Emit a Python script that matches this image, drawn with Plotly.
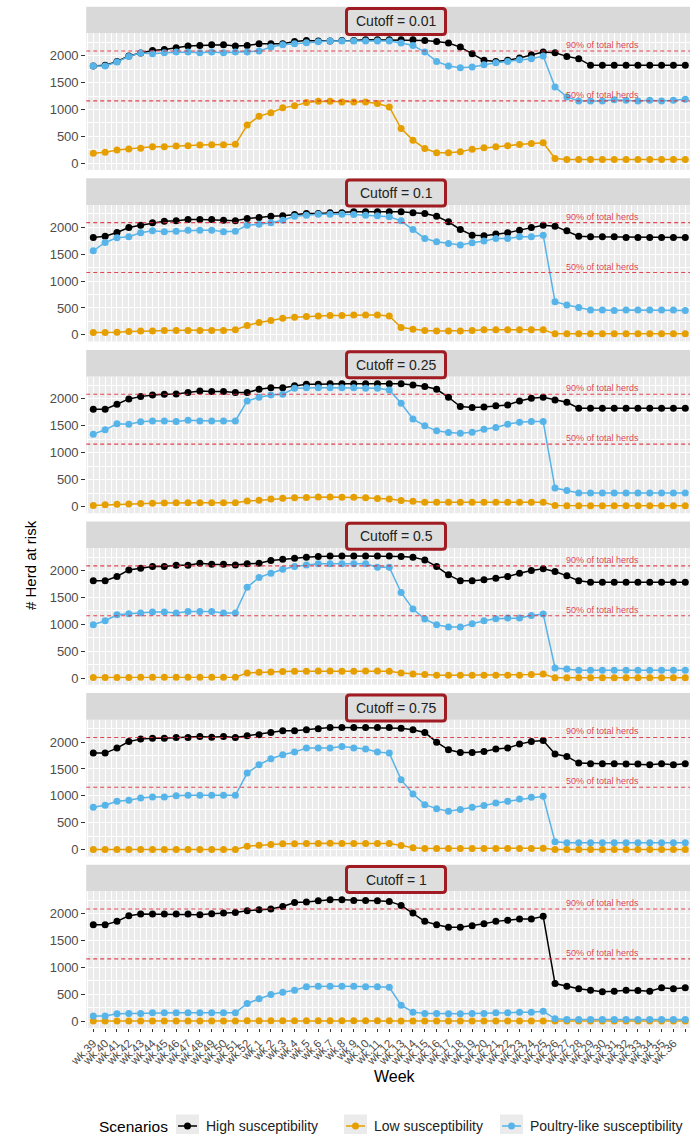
import plotly.graph_objects as go

# ---------------------------------------------------------------- data
weeks = ["wk.39", "wk.40", "wk.41", "wk.42", "wk.43", "wk.44", "wk.45", "wk.46",
         "wk.47", "wk.48", "wk.49", "wk.50", "wk.51", "wk.52", "wk.1", "wk.2",
         "wk.3", "wk.4", "wk.5", "wk.6", "wk.7", "wk.8", "wk.9", "wk.10", "wk.11",
         "wk.12", "wk.13", "wk.14", "wk.15", "wk.16", "wk.17", "wk.18", "wk.19",
         "wk.20", "wk.21", "wk.22", "wk.23", "wk.24", "wk.25", "wk.26", "wk.27",
         "wk.28", "wk.29", "wk.30", "wk.31", "wk.32", "wk.33", "wk.34", "wk.35",
         "wk.36", "wk.37"]

cutoffs = ["0.01", "0.1", "0.25", "0.5", "0.75", "1"]
scenarios = ["High susceptibility", "Low susceptibility", "Poultry-like susceptibility"]

total_herds = 2318

# Cutoff = 0.01
high_c001 = [1808, 1820, 1894, 1993, 2048, 2098, 2116, 2147, 2178, 2190, 2203, 2203, 2178,
             2190, 2221, 2221, 2221, 2264, 2283, 2271, 2271, 2283, 2283, 2296, 2296, 2296,
             2296, 2296, 2283, 2265, 2234, 2160, 2036, 1913, 1894, 1913, 1956, 2018, 2067,
             2055, 1987, 1944, 1820, 1820, 1820, 1820, 1820, 1820, 1820, 1820, 1820]
low_c001 = [185, 204, 247, 265, 278, 308, 308, 321, 327, 339, 345, 345, 352,
            710, 876, 938, 1030, 1067, 1129, 1154, 1154, 1141, 1141, 1141, 1109, 1048,
            646, 430, 275, 195, 195, 213, 263, 287, 306, 324, 349, 368, 380,
            90, 71, 71, 71, 71, 71, 71, 71, 71, 71, 71, 71]
poultry_c001 = [1808, 1808, 1882, 1987, 2048, 2036, 2054, 2067, 2067, 2054, 2067, 2054, 2067,
                2067, 2085, 2160, 2203, 2221, 2240, 2258, 2271, 2271, 2271, 2271, 2271, 2271,
                2234, 2191, 2067, 1894, 1808, 1777, 1789, 1832, 1869, 1894, 1925, 1944, 1993,
                1418, 1233, 1159, 1159, 1159, 1183, 1171, 1159, 1171, 1159, 1171, 1190]

# Cutoff = 0.1
high_c01 = [1811, 1835, 1903, 1996, 2039, 2083, 2114, 2120, 2144, 2144, 2144, 2132, 2120,
            2163, 2182, 2206, 2212, 2237, 2256, 2256, 2268, 2268, 2287, 2287, 2287, 2287,
            2287, 2268, 2256, 2206, 2101, 1959, 1854, 1842, 1873, 1897, 1947, 1996, 2039,
            2021, 1934, 1835, 1823, 1823, 1823, 1811, 1811, 1811, 1811, 1811, 1811]
low_c01 = [43, 43, 49, 62, 74, 74, 80, 80, 80, 80, 80, 80, 93,
           173, 229, 266, 309, 328, 340, 352, 358, 358, 371, 371, 371, 352,
           136, 105, 80, 74, 74, 74, 80, 93, 93, 93, 93, 93, 93,
           19, 19, 19, 19, 19, 19, 19, 19, 19, 19, 19, 19]
poultry_c01 = [1564, 1718, 1805, 1823, 1897, 1934, 1916, 1928, 1947, 1947, 1947, 1916, 1928,
               2039, 2058, 2083, 2132, 2206, 2225, 2243, 2243, 2243, 2237, 2225, 2212, 2194,
               2120, 1959, 1792, 1730, 1700, 1669, 1712, 1743, 1792, 1792, 1823, 1823, 1854,
               618, 556, 507, 464, 464, 451, 464, 464, 464, 464, 464, 451]

# Cutoff = 0.25
high_c025 = [1808, 1808, 1900, 1999, 2042, 2073, 2086, 2092, 2117, 2148, 2135, 2135, 2117,
             2117, 2178, 2209, 2209, 2246, 2271, 2271, 2283, 2283, 2283, 2283, 2283, 2283,
             2283, 2259, 2228, 2178, 2030, 1857, 1839, 1851, 1870, 1888, 1962, 2011, 2030,
             1981, 1937, 1826, 1826, 1826, 1826, 1826, 1826, 1826, 1826, 1826, 1826]
low_c025 = [20, 30, 40, 45, 55, 60, 65, 70, 70, 70, 70, 70, 70,
            100, 115, 140, 155, 160, 165, 175, 175, 170, 170, 160, 150, 140,
            110, 95, 80, 80, 80, 80, 80, 80, 80, 80, 80, 80, 80,
            20, 15, 15, 15, 15, 15, 15, 15, 15, 15, 15, 15]
poultry_c025 = [1344, 1425, 1536, 1530, 1573, 1591, 1591, 1579, 1604, 1591, 1591, 1591, 1591,
                1962, 2030, 2073, 2086, 2197, 2209, 2209, 2209, 2209, 2209, 2197, 2197, 2166,
                1919, 1628, 1499, 1406, 1375, 1363, 1381, 1437, 1468, 1530, 1567, 1579, 1579,
                343, 299, 250, 250, 250, 250, 250, 250, 250, 250, 250, 250]

# Cutoff = 0.5
high_c05 = [1808, 1808, 1888, 2011, 2042, 2073, 2073, 2098, 2098, 2135, 2117, 2117, 2104,
            2123, 2135, 2184, 2209, 2228, 2246, 2259, 2271, 2271, 2271, 2271, 2271, 2271,
            2259, 2246, 2197, 2073, 1919, 1808, 1808, 1826, 1857, 1888, 1950, 1999, 2030,
            1981, 1900, 1808, 1783, 1783, 1783, 1783, 1783, 1783, 1783, 1783, 1783]
low_c05 = [10, 10, 12, 12, 14, 14, 15, 15, 15, 16, 16, 16, 17,
           96, 108, 114, 120, 127, 127, 133, 133, 127, 127, 133, 133, 127,
           96, 77, 65, 53, 53, 53, 53, 53, 53, 53, 53, 65, 77,
           5, 5, 5, 5, 5, 5, 5, 5, 5, 5, 5, 5]
poultry_c05 = [992, 1066, 1177, 1196, 1208, 1227, 1227, 1208, 1239, 1239, 1239, 1208, 1208,
               1690, 1870, 1950, 2024, 2073, 2104, 2123, 2123, 2123, 2123, 2123, 2061, 2061,
               1591, 1282, 1097, 992, 949, 949, 1010, 1066, 1103, 1115, 1115, 1165, 1190,
               188, 170, 145, 145, 145, 145, 145, 145, 145, 145, 145, 145]

# Cutoff = 0.75
high_c075 = [1795, 1795, 1888, 2011, 2055, 2073, 2073, 2086, 2086, 2104, 2092, 2104, 2086,
             2117, 2135, 2178, 2209, 2209, 2228, 2246, 2271, 2271, 2271, 2271, 2271, 2271,
             2259, 2228, 2178, 1999, 1857, 1808, 1808, 1826, 1870, 1888, 1962, 2011, 2030,
             1777, 1734, 1610, 1598, 1598, 1598, 1591, 1591, 1579, 1598, 1579, 1598]
low_c075 = [5, 5, 5, 5, 5, 5, 5, 5, 5, 5, 5, 5, 5,
            65, 83, 96, 108, 108, 114, 114, 120, 114, 114, 114, 114, 114,
            77, 34, 22, 22, 22, 22, 22, 22, 22, 22, 22, 22, 28,
            5, 5, 5, 5, 5, 5, 5, 5, 5, 5, 5, 5]
poultry_c075 = [788, 825, 899, 918, 961, 980, 980, 1004, 1010, 1010, 1010, 1010, 1010,
                1424, 1579, 1690, 1764, 1814, 1888, 1888, 1888, 1919, 1888, 1870, 1814, 1795,
                1301, 1035, 837, 763, 714, 745, 788, 819, 868, 899, 942, 973, 992,
                145, 127, 127, 127, 127, 127, 127, 127, 127, 127, 127, 127]

# Cutoff = 1
high_c1 = [1795, 1795, 1857, 1962, 1993, 1993, 1993, 1993, 1993, 1981, 1999, 2011, 2024,
           2055, 2073, 2086, 2135, 2209, 2215, 2240, 2259, 2259, 2246, 2246, 2240, 2228,
           2154, 2011, 1857, 1795, 1746, 1746, 1777, 1814, 1857, 1876, 1900, 1900, 1950,
           701, 652, 603, 578, 547, 559, 578, 572, 559, 621, 603, 621]
low_c1 = [5, 5, 5, 5, 5, 5, 5, 5, 5, 5, 5, 5, 5,
          8, 8, 8, 8, 8, 8, 8, 8, 8, 8, 8, 8, 8,
          6, 6, 6, 6, 6, 6, 6, 6, 6, 6, 6, 6, 6,
          3, 3, 3, 3, 3, 3, 3, 3, 3, 3, 3, 3]
poultry_c1 = [96, 96, 139, 145, 145, 158, 158, 158, 158, 158, 158, 158, 158,
              331, 417, 497, 541, 578, 640, 652, 652, 652, 652, 640, 640, 633,
              300, 170, 145, 145, 139, 139, 145, 145, 158, 158, 170, 170, 188,
              46, 34, 34, 34, 34, 34, 34, 34, 34, 34, 34, 34]

panels = [
    (high_c001, low_c001, poultry_c001),
    (high_c01, low_c01, poultry_c01),
    (high_c025, low_c025, poultry_c025),
    (high_c05, low_c05, poultry_c05),
    (high_c075, low_c075, poultry_c075),
    (high_c1, low_c1, poultry_c1),
]

colors = ["#000000", "#E69F00", "#56B4E9"]

# ---------------------------------------------------------------- layout geometry (pixels)
W, H = 690, 1134
FONT = "Liberation Sans, Arial, Helvetica, sans-serif"
PANEL_STEP = 171.6
STRIP_TOP, PLOT_TOP, PLOT_BOTTOM = 6.7, 33.3, 170.0
PLOT_LEFT = 86.2
Y_RANGE = [-125, 2416]
X_RANGE = [-0.6, 50.4]
REF_RED = "rgba(222,40,55,0.85)"


def px_x(x):
    return x / W


def px_y(y):
    return 1 - y / H


fig = go.Figure()
xs = list(range(len(weeks)))

for k, series in enumerate(panels):
    xa = "x" if k == 0 else f"x{k + 1}"
    ya = "y" if k == 0 else f"y{k + 1}"
    for name, vals, col in zip(scenarios, series, colors):
        fig.add_trace(go.Scatter(
            x=xs, y=vals, xaxis=xa, yaxis=ya, mode="lines+markers", name=name,
            legendgroup=name, showlegend=False,
            line=dict(color=col, width=1.5),
            marker=dict(color=col, size=7),
            hovertemplate="%{text}: %{y}<extra>" + name + "</extra>",
            text=weeks,
        ))

    off = k * PANEL_STEP
    top_px, bot_px = PLOT_TOP + off, PLOT_BOTTOM + off
    last = (k == len(panels) - 1)

    fig.layout[f"xaxis{'' if k == 0 else k + 1}"] = dict(
        domain=[px_x(PLOT_LEFT), 1], range=X_RANGE, anchor=ya, automargin=False,
        tickmode="array", tickvals=xs, ticktext=weeks,
        showticklabels=last, ticks="outside" if last else "", ticklen=3,
        tickcolor="#333333", tickwidth=1, tickangle=-45,
        tickfont=dict(size=11.5, color="#4D4D4D", family=FONT),
        showgrid=True, gridcolor="white", gridwidth=1.1,
        minor=dict(tickvals=[i + 0.5 for i in range(-1, len(weeks))],
                   showgrid=True, gridcolor="white", gridwidth=0.5),
        zeroline=False, showline=False, fixedrange=True,
    )
    fig.layout[f"yaxis{'' if k == 0 else k + 1}"] = dict(
        domain=[px_y(bot_px), px_y(top_px)], range=Y_RANGE, anchor=xa, automargin=False,
        tickmode="array", tickvals=[0, 500, 1000, 1500, 2000],
        ticks="outside", ticklen=4, tickcolor="#333333", tickwidth=1,
        tickfont=dict(size=13, color="#4D4D4D", family=FONT),
        showgrid=True, gridcolor="white", gridwidth=1.1,
        minor=dict(tickvals=[250, 750, 1250, 1750, 2250],
                   showgrid=True, gridcolor="white", gridwidth=0.5),
        zeroline=False, showline=False, fixedrange=True,
    )

    # panel background
    fig.add_shape(type="rect", xref="paper", yref="paper",
                  x0=px_x(PLOT_LEFT), x1=1, y0=px_y(bot_px), y1=px_y(top_px),
                  fillcolor="#EBEBEB", line_width=0, layer="below")
    # facet strip
    fig.add_shape(type="rect", xref="paper", yref="paper",
                  x0=px_x(PLOT_LEFT), x1=1, y0=px_y(top_px), y1=px_y(STRIP_TOP + off),
                  fillcolor="#D9D9D9", line_width=0, layer="below")

    # reference lines at 90% and 50% of total herds
    for frac, lab in [(0.9, "90% of total herds"), (0.5, "50% of total herds")]:
        yv = frac * total_herds
        fig.add_trace(go.Scatter(
            x=[X_RANGE[0], X_RANGE[1]], y=[yv, yv], xaxis=xa, yaxis=ya, mode="lines",
            line=dict(color=REF_RED, width=1.1, dash="4px,3px"),
            showlegend=False, hoverinfo="skip",
        ))
        fig.add_annotation(xref=xa, yref=ya, x=43, y=yv, text=lab, showarrow=False,
                           yanchor="middle", yshift=6,
                           font=dict(size=9, color="rgba(215,45,60,0.9)", family=FONT))

    # boxed strip label with rounded corners
    bx0, bx1 = 346.5, 445.5
    by0, by1 = 8.5 + off, 34.5 + off
    r = 3
    path = (f"M {px_x(bx0 + r)},{px_y(by0)} L {px_x(bx1 - r)},{px_y(by0)} "
            f"Q {px_x(bx1)},{px_y(by0)} {px_x(bx1)},{px_y(by0 + r)} "
            f"L {px_x(bx1)},{px_y(by1 - r)} Q {px_x(bx1)},{px_y(by1)} {px_x(bx1 - r)},{px_y(by1)} "
            f"L {px_x(bx0 + r)},{px_y(by1)} Q {px_x(bx0)},{px_y(by1)} {px_x(bx0)},{px_y(by1 - r)} "
            f"L {px_x(bx0)},{px_y(by0 + r)} Q {px_x(bx0)},{px_y(by0)} {px_x(bx0 + r)},{px_y(by0)} Z")
    fig.add_shape(type="path", xref="paper", yref="paper", path=path,
                  fillcolor="#DEDEDE", line=dict(color="#A01C22", width=3), layer="above")
    fig.add_annotation(xref="paper", yref="paper", x=px_x(396), y=px_y(21.5 + off),
                       text=f"Cutoff = {cutoffs[k]}", showarrow=False,
                       xanchor="center", yanchor="middle",
                       font=dict(size=14, color="#222222", family=FONT))

# axis titles
fig.add_annotation(xref="paper", yref="paper", x=px_x(30), y=px_y(565),
                   text="# Herd at risk", textangle=-90, showarrow=False,
                   xanchor="center", yanchor="middle",
                   font=dict(size=15, color="#000000", family=FONT))
fig.add_annotation(xref="paper", yref="paper", x=px_x(395), y=px_y(1076),
                   text="Week", showarrow=False, xanchor="center", yanchor="middle",
                   font=dict(size=16, color="#000000", family=FONT))

# legend drawn as keys (grey square, line, dot) followed by labels
LEG_Y = 1126
fig.add_annotation(xref="paper", yref="paper", x=px_x(97), y=px_y(LEG_Y),
                   text="Scenarios", showarrow=False, xanchor="left", yanchor="middle",
                   font=dict(size=15.5, color="#000000", family=FONT))
key_left = [176, 344, 500]
for name, col, kx in zip(scenarios, colors, key_left):
    fig.add_shape(type="rect", xref="paper", yref="paper",
                  x0=px_x(kx), x1=px_x(kx + 23), y0=px_y(LEG_Y + 11.5), y1=px_y(LEG_Y - 11.5),
                  fillcolor="#EBEBEB", line_width=0)
    fig.add_shape(type="line", xref="paper", yref="paper",
                  x0=px_x(kx + 2), x1=px_x(kx + 21), y0=px_y(LEG_Y), y1=px_y(LEG_Y),
                  line=dict(color=col, width=1.5))
    fig.add_shape(type="circle", xref="paper", yref="paper",
                  x0=px_x(kx + 8), x1=px_x(kx + 15), y0=px_y(LEG_Y + 3.5), y1=px_y(LEG_Y - 3.5),
                  fillcolor=col, line_width=0)
    fig.add_annotation(xref="paper", yref="paper", x=px_x(kx + 28), y=px_y(LEG_Y),
                       text=name, showarrow=False, xanchor="left", yanchor="middle",
                       font=dict(size=14, color="#222222", family=FONT))

fig.update_layout(
    width=W, height=H, autosize=False,
    margin=dict(l=0, r=0, t=0, b=0),
    paper_bgcolor="white", plot_bgcolor="rgba(0,0,0,0)",
    font=dict(family=FONT),
    showlegend=False,
)

fig.write_html("out.html")
